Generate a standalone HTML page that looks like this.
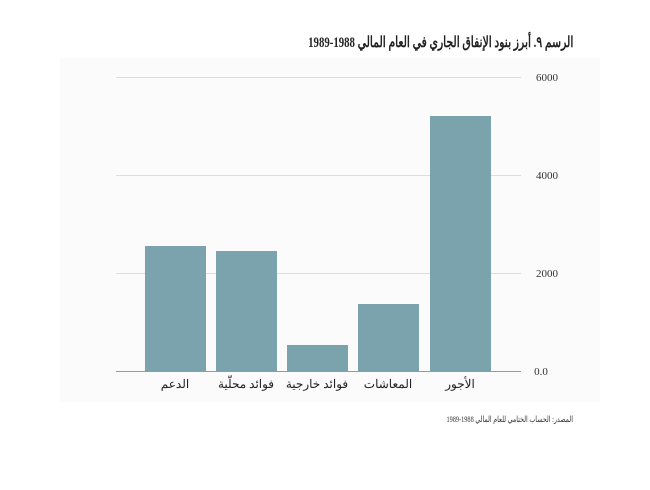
<!DOCTYPE html>
<html><head><meta charset="utf-8"><style>
body{margin:0;background:#fff;position:relative;width:650px;height:490px;overflow:hidden;}
svg{display:block;position:absolute;left:0;top:0;font-family:"Liberation Serif","DejaVu Serif",serif;}
.t{position:absolute;right:77px;direction:rtl;text-align:right;font-family:"Liberation Serif","DejaVu Serif",serif;white-space:nowrap;color:#222;transform-origin:right center;}
</style></head><body>
<svg width="650" height="490" xmlns="http://www.w3.org/2000/svg">
<rect x="60" y="58" width="540" height="344" fill="#fbfbfb"/>
<g stroke="#dddddd" stroke-width="1">
<line x1="116" y1="77.5" x2="521" y2="77.5"/>
<line x1="116" y1="175.5" x2="521" y2="175.5"/>
<line x1="116" y1="273.5" x2="521" y2="273.5"/>
</g>
<g fill="#7aa3ae">
<rect x="145" y="246" width="61" height="125"/>
<rect x="216" y="251" width="61" height="120"/>
<rect x="287" y="345" width="61" height="26"/>
<rect x="358" y="304" width="61" height="67"/>
<rect x="430" y="116" width="61" height="255"/>
</g>
<line x1="116" y1="371.5" x2="521" y2="371.5" stroke="#999" stroke-width="1"/>
<g font-size="11" fill="#333" text-anchor="middle">
<text x="547" y="81">6000</text>
<text x="547" y="179">4000</text>
<text x="547" y="277">2000</text>
<text x="541" y="375">0.0</text>
</g>
<g font-size="12" fill="#222" text-anchor="middle">
<text x="175" y="388">الدعم</text>
<text x="246" y="388">فوائد محلّية</text>
<text x="317" y="388">فوائد خارجية</text>
<text x="388" y="388">المعاشات</text>
<text x="460" y="388">الأجور</text>
</g>
</svg>
<div class="t" style="top:33px;font-size:15px;font-weight:bold;transform:scaleX(0.72);">الرسم ٩. أبرز بنود الإنفاق الجاري في العام المالي 1988-1989</div>
<div class="t" style="top:414px;font-size:8.5px;color:#333;transform:scaleX(0.74);">المصدر: الحساب الختامي للعام المالي 1988-1989</div>
</body></html>
